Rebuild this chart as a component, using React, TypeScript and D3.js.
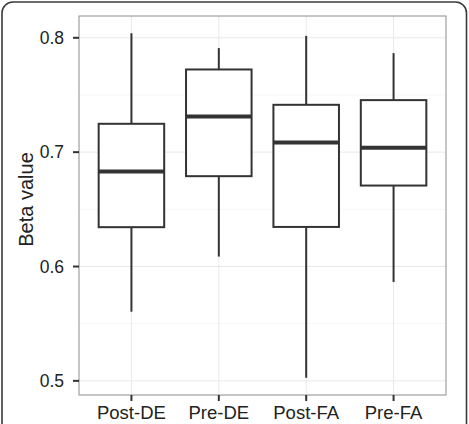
import React from "react";
import * as d3 from "d3";

const categories = ["Post-DE", "Pre-DE", "Post-FA", "Pre-FA"];
const whiskerLow = [0.5605, 0.6087, 0.5027, 0.5865];
const q1 = [0.6344, 0.679, 0.6346, 0.6708];
const median = [0.683, 0.7311, 0.7084, 0.7038];
const q3 = [0.7248, 0.7723, 0.7414, 0.7455];
const whiskerHigh = [0.804, 0.791, 0.8017, 0.7866];
const yTicks = [0.5, 0.6, 0.7, 0.8];
const yMinor = [0.55, 0.65, 0.75];

const W = 469;
const H = 424;
const panel = { left: 79, top: 16, right: 446, bottom: 395 };

export default function App() {
  const lo = d3.min(whiskerLow) as number;
  const hi = d3.max(whiskerHigh) as number;
  const pad = (hi - lo) * 0.05;
  const y = d3.scaleLinear().domain([lo - pad, hi + pad]).range([panel.bottom, panel.top]);
  const x = d3.scalePoint<string>().domain(categories).range([panel.left, panel.right]).padding(0.6);
  const step = x.step();
  const bw = step * 0.75;
  const font = "'Liberation Sans', Arial, sans-serif";
  const dark = "#333333";

  return (
    <svg width={W} height={H} style={{ position: "absolute", left: 0, top: 0 }} fontFamily={font}>
      <rect x={0} y={0} width={W} height={H} fill="#ffffff" />
      <rect x={2} y={2} width={W - 4.5} height={H + 20} rx={11} ry={11} fill="none" stroke="#3a3a3a" strokeWidth={1.6} />
      <rect x={panel.left} y={panel.top} width={panel.right - panel.left} height={panel.bottom - panel.top} fill="#ffffff" />
      {yMinor.map((t) => (
        <line key={"m" + t} x1={panel.left} x2={panel.right} y1={y(t)} y2={y(t)} stroke="#f6f6f6" strokeWidth={1} />
      ))}
      {yTicks.map((t) => (
        <line key={"g" + t} x1={panel.left} x2={panel.right} y1={y(t)} y2={y(t)} stroke="#e8e8e8" strokeWidth={1} />
      ))}
      {categories.map((c) => (
        <line key={"v" + c} x1={x(c)} x2={x(c)} y1={panel.top} y2={panel.bottom} stroke="#e8e8e8" strokeWidth={1} />
      ))}
      {categories.map((c, i) => {
        const cx = x(c) as number;
        return (
          <g key={c}>
            <line x1={cx} x2={cx} y1={y(whiskerHigh[i])} y2={y(q3[i])} stroke={dark} strokeWidth={2} />
            <line x1={cx} x2={cx} y1={y(q1[i])} y2={y(whiskerLow[i])} stroke={dark} strokeWidth={2} />
            <rect x={cx - bw / 2} y={y(q3[i])} width={bw} height={y(q1[i]) - y(q3[i])} fill="#ffffff" stroke={dark} strokeWidth={2} />
            <line x1={cx - bw / 2} x2={cx + bw / 2} y1={y(median[i])} y2={y(median[i])} stroke={dark} strokeWidth={4} />
          </g>
        );
      })}
      <rect x={panel.left} y={panel.top} width={panel.right - panel.left} height={panel.bottom - panel.top} fill="none" stroke="#8c8c8c" strokeWidth={1} />
      {yTicks.map((t) => (
        <g key={"t" + t}>
          <line x1={panel.left - 6} x2={panel.left} y1={y(t)} y2={y(t)} stroke={dark} strokeWidth={2} />
          <text x={panel.left - 15} y={y(t)} dy="0.36em" textAnchor="end" fontSize={17.5} fill="#222">
            {t.toFixed(1)}
          </text>
        </g>
      ))}
      {categories.map((c) => (
        <g key={"xt" + c}>
          <line x1={x(c)} x2={x(c)} y1={panel.bottom} y2={panel.bottom + 6} stroke={dark} strokeWidth={2} />
          <text x={x(c)} y={panel.bottom + 24} textAnchor="middle" fontSize={18.5} fill="#222">
            {c}
          </text>
        </g>
      ))}
      <text transform={`translate(33,${(panel.top + panel.bottom) / 2 - 6}) rotate(-90)`} textAnchor="middle" fontSize={20} fill="#222">
        Beta value
      </text>
    </svg>
  );
}
